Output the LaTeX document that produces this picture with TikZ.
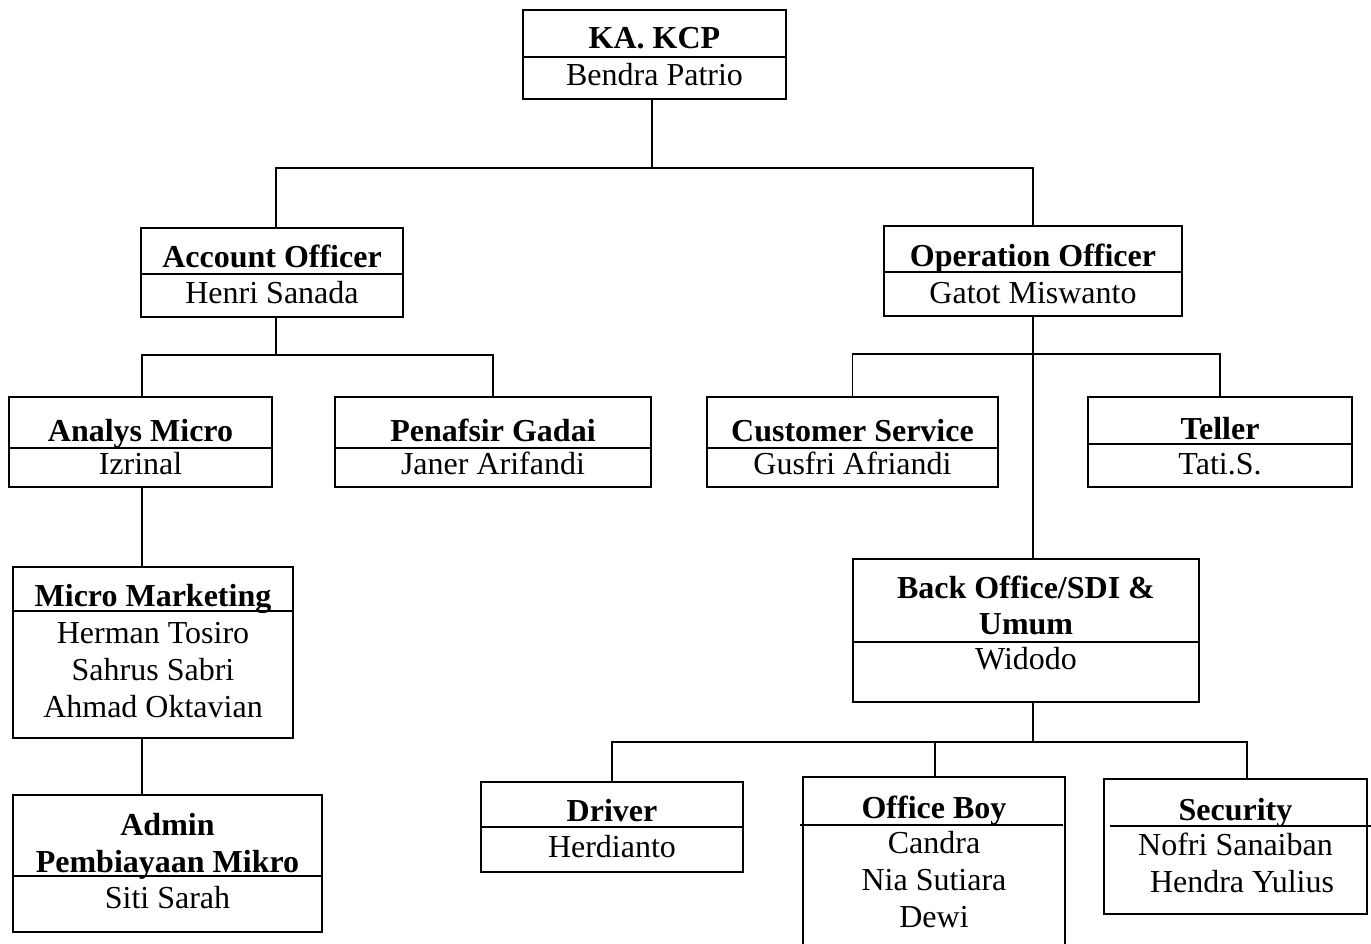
\documentclass[tikz,border=0pt]{standalone}
\usepackage{fontspec}
\setmainfont{Liberation Serif}
\usepackage{tikz}

\begin{document}
\begin{tikzpicture}[x=1pt,y=-1pt,
  unit/.style={draw, line width=1.6pt, inner sep=0pt},
  link/.style={line width=1.6pt},
  head/.style={anchor=base, font=\fontsize{32}{37}\selectfont\bfseries},
  who/.style={anchor=base, font=\fontsize{32}{37}\selectfont}]
\useasboundingbox (0,0) rectangle (1371,944);
\clip (0,0) rectangle (1371,944);

% KA. KCP
\node (kcp) [unit, minimum width=263pt, minimum height=89pt] at (654.5,54.5) {};
\draw [link] (kcp.west |- 0,57) -- (kcp.east |- 0,57);
\node (kcp-t) [head] at (654.5,49) {KA. KCP};
\node (kcp-n) [who] at (654.5,86) {Bendra Patrio};

% Account Officer
\node (ao) [unit, minimum width=262pt, minimum height=89pt] at (272,272.5) {};
\draw [link] (ao.west |- 0,274) -- (ao.east |- 0,274);
\node (ao-t) [head] at (272,268) {Account Officer};
\node (ao-n) [who] at (272,303) {Henri Sanada};

% Operation Officer
\node (oo) [unit, minimum width=298pt, minimum height=90pt] at (1033,271) {};
\draw [link] (oo.west |- 0,272) -- (oo.east |- 0,272);
\node (oo-t) [head] at (1033,266) {Operation Officer};
\node (oo-n) [who] at (1033,303) {Gatot Miswanto};

% Analys Micro
\node (am) [unit, minimum width=263pt, minimum height=90pt] at (140.5,442) {};
\draw [link] (am.west |- 0,448) -- (am.east |- 0,448);
\node (am-t) [head] at (140.5,441) {Analys Micro};
\node (am-n) [who] at (140.5,474) {Izrinal};

% Penafsir Gadai
\node (pg) [unit, minimum width=316pt, minimum height=90pt] at (493,442) {};
\draw [link] (pg.west |- 0,448) -- (pg.east |- 0,448);
\node (pg-t) [head] at (493,441) {Penafsir Gadai};
\node (pg-n) [who] at (493,474) {Janer Arifandi};

% Customer Service
\node (cs) [unit, minimum width=291pt, minimum height=90pt] at (852.5,442) {};
\draw [link] (cs.west |- 0,448) -- (cs.east |- 0,448);
\node (cs-t) [head] at (852.5,441) {Customer Service};
\node (cs-n) [who] at (852.5,474) {Gusfri Afriandi};

% Teller
\node (tl) [unit, minimum width=264pt, minimum height=90pt] at (1220,442) {};
\draw [link] (tl.west |- 0,444) -- (tl.east |- 0,444);
\node (tl-t) [head] at (1220,439) {Teller};
\node (tl-n) [who] at (1220,474) {Tati.S.};

% Back Office
\node (bo) [unit, minimum width=346pt, minimum height=143pt] at (1026,630.5) {};
\draw [link] (bo.west |- 0,642) -- (bo.east |- 0,642);
\node (bo-t1) [head] at (1026,598) {Back Office/SDI \&};
\node (bo-t2) [head] at (1026,634) {Umum};
\node (bo-n) [who] at (1026,669) {Widodo};

% Micro Marketing
\node (mm) [unit, minimum width=280pt, minimum height=171pt] at (153,652.5) {};
\draw [link] (mm.west |- 0,611) -- (mm.east |- 0,611);
\node (mm-t) [head] at (153,606) {Micro Marketing};
\node (mm-n1) [who] at (153,643) {Herman Tosiro};
\node (mm-n2) [who] at (153,680) {Sahrus Sabri};
\node (mm-n3) [who] at (153,717) {Ahmad Oktavian};

% Admin Pembiayaan Mikro
\node (ad) [unit, minimum width=309pt, minimum height=137pt] at (167.5,863.5) {};
\draw [link] (ad.west |- 0,876) -- (ad.east |- 0,876);
\node (ad-t1) [head] at (167.5,835) {Admin};
\node (ad-t2) [head] at (167.5,872) {Pembiayaan Mikro};
\node (ad-n) [who] at (167.5,908) {Siti Sarah};

% Driver
\node (dr) [unit, minimum width=262pt, minimum height=90pt] at (612,827) {};
\draw [link] (dr.west |- 0,827) -- (dr.east |- 0,827);
\node (dr-t) [head] at (612,821) {Driver};
\node (dr-n) [who] at (612,857) {Herdianto};

% Office Boy
\node (ob) [unit, minimum width=262pt, minimum height=183pt] at (934,868.5) {};
\draw [link] (800,825) -- (1063,825);
\node (ob-t) [head] at (934,818) {Office Boy};
\node (ob-n1) [who] at (934,853) {Candra};
\node (ob-n2) [who] at (934,890) {Nia Sutiara};
\node (ob-n3) [who] at (934,927) {Dewi};

% Security
\node (se) [unit, minimum width=263pt, minimum height=135pt] at (1235.5,846.5) {};
\draw [link] (1110,826) -- (1375,826);
\node (se-t) [head] at (1235.5,820) {Security};
\node (se-n1) [who] at (1235.5,855) {Nofri Sanaiban};
\node (se-n2) [who] at (1242,892) {Hendra Yulius};

% lines
\draw [link] ([xshift=-2.5pt]kcp.south) -- ++(0,68) coordinate (b1);
\draw [link] ([xshift=4pt]ao.north) |- (b1) -| (oo.north);
\draw [link] ([xshift=4pt]ao.south) -- ++(0,37) coordinate (b2);
\draw [link] ([xshift=1.5pt]am.north) |- (b2) -| (pg.north);
\draw [link] (oo.south) -- (oo.south |- bo.north);
\draw [link] (cs.north) |- (oo.south |- 0,354) -| (tl.north);
\draw [link] ([xshift=1.5pt]am.south) -- ([xshift=1.5pt]am.south |- mm.north);
\draw [link] ([xshift=-11pt]mm.south) -- ([xshift=-11pt]mm.south |- ad.north);
\draw [link] ([xshift=7pt]bo.south) -- ++(0,39) coordinate (b4);
\draw [link] (dr.north) |- (b4) -| ([xshift=11.5pt]se.north);
\draw [link] ([xshift=1pt]ob.north) -- ([xshift=1pt]ob.north |- b4);
\end{tikzpicture}
\end{document}
